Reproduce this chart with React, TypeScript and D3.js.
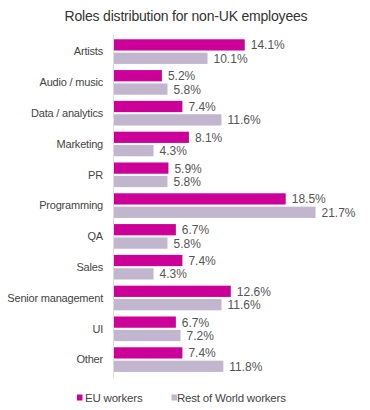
import React from 'react';
import * as d3 from 'd3';

const categories = ['Artists', 'Audio / music', 'Data / analytics', 'Marketing', 'PR', 'Programming', 'QA', 'Sales', 'Senior management', 'UI', 'Other'];
const euWorkers = [14.1, 5.2, 7.4, 8.1, 5.9, 18.5, 6.7, 7.4, 12.6, 6.7, 7.4];
// last value hidden in the source, taken so the column adds up to 100%
const restOfWorld = [10.1, 5.8, 11.6, 4.3, 5.8, 21.7, 5.8, 4.3, 11.6, 7.2, 11.8];
const seriesNames = ['EU workers', 'Rest of World workers'];

const W = 370;
const H = 410;
const FONT = '"Liberation Sans", Arial, sans-serif';
const colors = ['#cc0099', '#c1b6cd'];

export default function App() {
    const left = 113.5;
    const x = d3.scaleLinear().domain([0, 21.7]).range([0, 202]);
    const y = d3.scaleBand<string>()
        .domain(categories)
        .range([36.2, 375])
        .paddingInner(0.2)
        .paddingOuter(0.1);
    const sub = d3.scaleBand<number>()
        .domain([0, 1])
        .range([0, y.bandwidth()])
        .paddingInner(0.16);

    const series = [euWorkers, restOfWorld];

    return (
        <svg width={W} height={H} style={{ position: 'absolute', left: 0, top: 0, background: '#fff' }} fontFamily={FONT}>
            <text x={186} y={21} textAnchor="middle" fontSize={14} letterSpacing={-0.2} fill="#333">
                Roles distribution for non-UK employees
            </text>

            {categories.map((c, i) => {
                const y0 = y(c) as number;
                return (
                    <g key={c}>
                        <text x={103} y={y0 + y.bandwidth() / 2} dy="0.35em" textAnchor="end"
                            fontSize={11} letterSpacing={-0.2} fill="#444">{c}</text>
                        {series.map((s, j) => (
                            <g key={j}>
                                <rect x={left} y={y0 + (sub(j) as number)} width={x(s[i])}
                                    height={sub.bandwidth()} fill={colors[j]} />
                                <text x={left + x(s[i]) + 6} y={y0 + (sub(j) as number) + sub.bandwidth() / 2}
                                    dy="0.38em" fontSize={12} fill="#555">
                                    {s[i].toFixed(1)}%
                                </text>
                            </g>
                        ))}
                    </g>
                );
            })}

            <line x1={left} x2={left} y1={35} y2={378} stroke="#ddd" strokeWidth={1} />

            <g>
                <rect x={77} y={394.5} width={5.5} height={6} fill={colors[0]} />
                <text x={85} y={401.5} fontSize={11.5} letterSpacing={-0.2} fill="#444">{seriesNames[0]}</text>
                <rect x={171.5} y={394.5} width={5.5} height={6} fill={colors[1]} />
                <text x={177} y={401.5} fontSize={11.5} letterSpacing={-0.2} fill="#444">{seriesNames[1]}</text>
            </g>
        </svg>
    );
}
